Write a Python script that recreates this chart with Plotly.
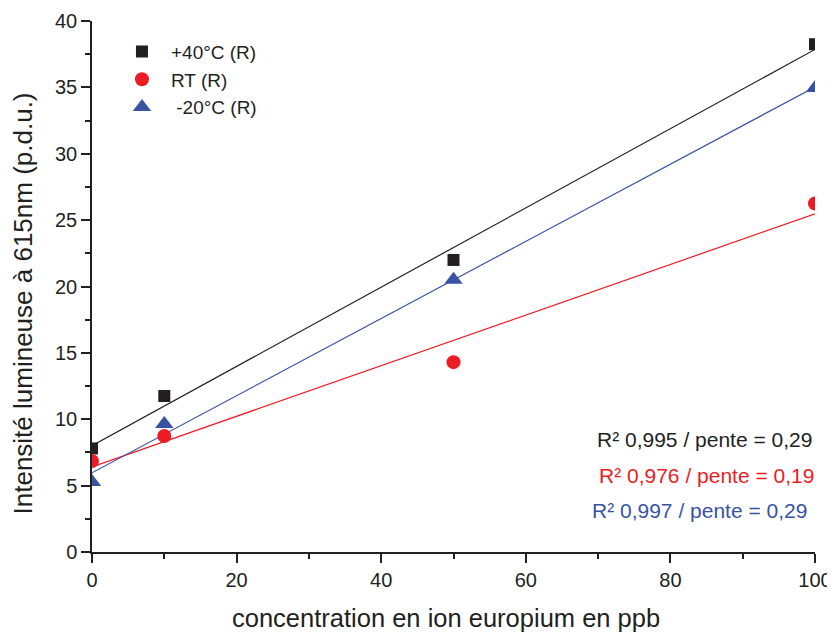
import numpy as np
import plotly.graph_objects as go

conc = [0, 10, 50, 100]
s_plus40 = [7.8, 11.75, 22.0, 38.25]
s_rt = [6.85, 8.74, 14.3, 26.25]
s_minus20 = [5.27, 9.64, 20.5, 34.95]

names = ["+40°C (R)", "RT (R)", " -20°C (R)"]
colors = ["#231f20", "#ed1c24", "#3953a4"]
symbols = ["square", "circle", "triangle-up"]
sizes = [12, 14, 16]
fit_labels = ["R² 0,995 / pente = 0,29", "R² 0,976 / pente = 0,19", "R² 0,997 / pente = 0,29"]
label_y = [8.44, 5.80, 3.16]
label_shift = [-1, 1, -6]

FONT = "Liberation Sans, Arial, sans-serif"
fig = go.Figure()
series = [s_plus40, s_rt, s_minus20]
for ys, c in zip(series, colors):
    a, b = np.polyfit(conc, ys, 1)
    xf = [0, 100]
    fig.add_trace(go.Scatter(x=xf, y=[b + a * x for x in xf], mode="lines",
                             line=dict(color=c, width=1.2), showlegend=False, hoverinfo="skip"))
for ys, c, n, s, sz in zip(series, colors, names, symbols, sizes):
    fig.add_trace(go.Scatter(x=conc, y=ys, mode="markers", name=n,
                             marker=dict(color=c, symbol=s, size=sz, line=dict(width=0))))

for t, c, ly, sh in zip(fit_labels, colors, label_y, label_shift):
    fig.add_annotation(x=1.0, xref="paper", y=ly, yref="y", text=t, xshift=sh,
                       showarrow=False, xanchor="right", yanchor="middle",
                       font=dict(size=21, color=c, family=FONT))

# axis titles placed as annotations to match the reference offsets
fig.add_annotation(x=0, xref="paper", y=0.468, yref="paper", xshift=-69,
                   text="Intensité lumineuse à 615nm (p.d.u.)", textangle=-90,
                   showarrow=False, xanchor="center", yanchor="middle",
                   font=dict(size=26, color="#231f20", family=FONT))
fig.add_annotation(x=0.4903, xref="paper", y=0, yref="paper", yshift=-66,
                   text="concentration en ion europium en ppb",
                   showarrow=False, xanchor="center", yanchor="middle",
                   font=dict(size=25.5, color="#231f20", family=FONT))

axis_common = dict(showline=True, linecolor="#231f20", linewidth=1.5, ticks="outside",
                   ticklen=9, tickwidth=1.5, tickcolor="#231f20", showgrid=False, zeroline=False,
                   tickfont=dict(size=20, color="#231f20", family=FONT), mirror=False,
                   automargin=False)
fig.update_xaxes(range=[0, 100], dtick=20, tick0=0,
                 minor=dict(dtick=10, ticks="outside", ticklen=5, tickwidth=1.5, tickcolor="#231f20"),
                 **axis_common)
fig.update_yaxes(range=[0, 40], dtick=5, tick0=0,
                 minor=dict(dtick=2.5, ticks="outside", ticklen=5, tickwidth=1.5, tickcolor="#231f20"),
                 **axis_common)
fig.update_layout(
    width=827, height=625,
    margin=dict(l=84, r=20, t=13, b=81),
    plot_bgcolor="white", paper_bgcolor="white",
    font=dict(family=FONT, color="#231f20"),
    legend=dict(x=0.029, y=0.978, xanchor="left", yanchor="top", bgcolor="rgba(0,0,0,0)",
                font=dict(size=19, family=FONT, color="#231f20"), itemwidth=48, tracegroupgap=0),
)
fig.write_html("out.html")
